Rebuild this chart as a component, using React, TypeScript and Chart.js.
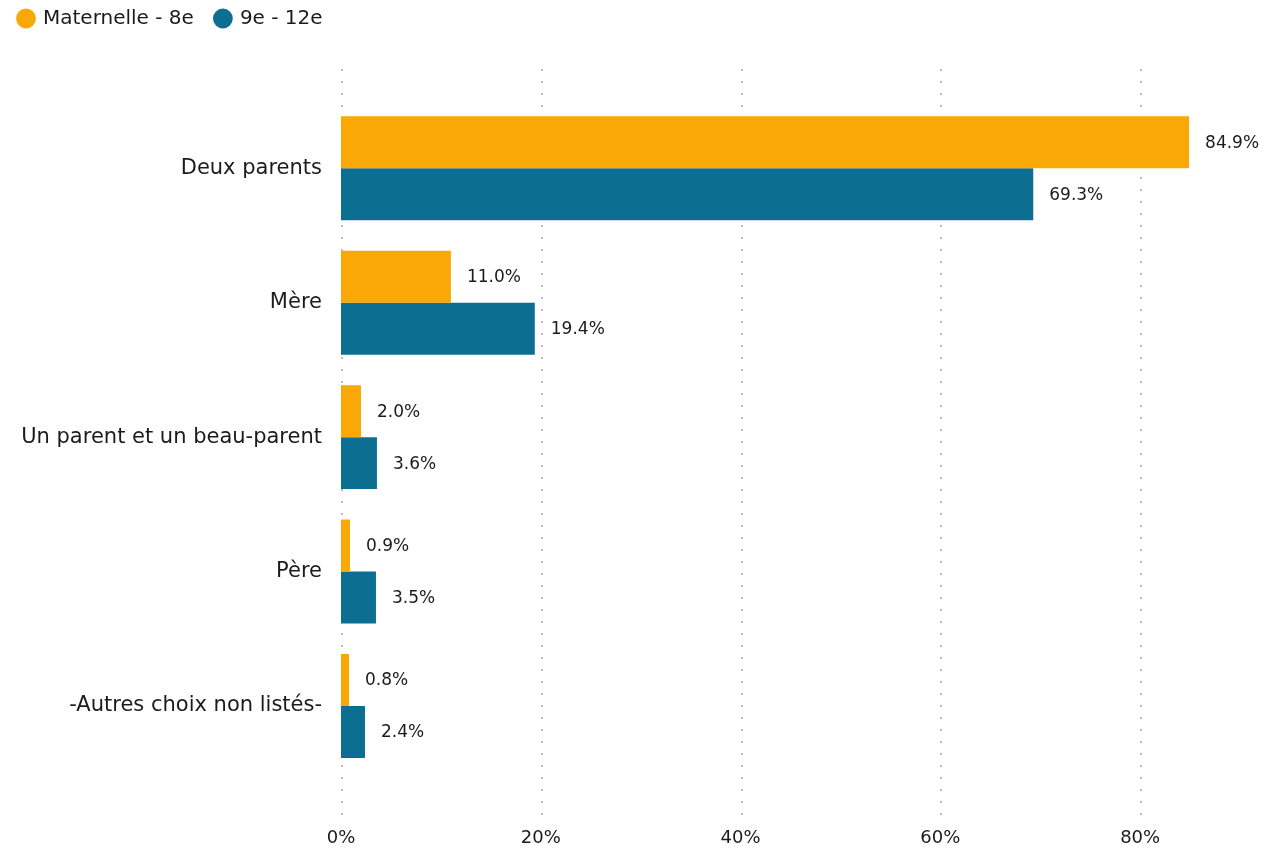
import React, { useEffect, useRef } from "react";
import { Chart, registerables } from "chart.js";

Chart.register(...registerables);

const categories = [
  "Deux parents",
  "Mère",
  "Un parent et un beau-parent",
  "Père",
  "-Autres choix non listés-",
];
const seriesNames = ["Maternelle - 8e", "9e - 12e"];
const maternelle = [84.9, 11.0, 2.0, 0.9, 0.8];
const secondaire = [69.3, 19.4, 3.6, 3.5, 2.4];
const tickValues = [0, 20, 40, 60, 80];
const colors = ["#FAA805", "#0C6F92"];

const FONT = "'DejaVu Sans'";
const TEXT = "#1b1b1b";

const dottedGrid = {
  id: "dottedGrid",
  beforeDatasetsDraw(chart: any) {
    const ctx = chart.ctx;
    const xs = chart.scales.x;
    ctx.save();
    ctx.strokeStyle = "rgba(165,165,182,0.75)";
    ctx.lineWidth = 2;
    ctx.setLineDash([2, 10]);
    tickValues.forEach((v) => {
      const x = Math.round(xs.getPixelForValue(v)) + 1;
      ctx.beginPath();
      ctx.moveTo(x, 69);
      ctx.lineTo(x, 816);
      ctx.stroke();
    });
    ctx.restore();
  },
};

const valueLabels = {
  id: "valueLabels",
  afterDatasetsDraw(chart: any) {
    const ctx = chart.ctx;
    ctx.save();
    ctx.font = `17px ${FONT}`;
    ctx.fillStyle = TEXT;
    ctx.textAlign = "left";
    ctx.textBaseline = "middle";
    chart.data.datasets.forEach((ds: any, i: number) => {
      const meta = chart.getDatasetMeta(i);
      meta.data.forEach((bar: any, j: number) => {
        const v = ds.data[j] as number;
        ctx.fillText(`${v.toFixed(1)}%`, bar.x + 16, bar.y + 1);
      });
    });
    ctx.restore();
  },
};

const legendMargin = {
  id: "legendMargin",
  beforeInit(chart: any) {
    const legend = chart.legend;
    const orig = legend.fit;
    legend.fit = function () {
      orig.call(this);
      this.height += 62.5;
    };
  },
};

export default function App() {
  const ref = useRef<HTMLCanvasElement | null>(null);

  useEffect(() => {
    document.body.style.margin = "0";
    Chart.defaults.font.family = FONT;
    Chart.defaults.color = TEXT;
    const chart = new Chart(ref.current!, {
      type: "bar",
      data: {
        labels: categories,
        datasets: [
          {
            label: seriesNames[0],
            data: maternelle,
            backgroundColor: colors[0],
            borderWidth: 0,
            categoryPercentage: 0.7732,
            barPercentage: 1,
          },
          {
            label: seriesNames[1],
            data: secondaire,
            backgroundColor: colors[1],
            borderWidth: 0,
            categoryPercentage: 0.7732,
            barPercentage: 1,
          },
        ],
      },
      options: {
        indexAxis: "y",
        responsive: false,
        animation: false,
        devicePixelRatio: 1,
        layout: { padding: { left: -3, right: 8, top: -13.5, bottom: 0 } },
        plugins: {
          tooltip: { enabled: false },
          legend: {
            position: "top",
            align: "start",
            labels: {
              usePointStyle: true,
              pointStyle: "circle",
              boxWidth: 14,
              boxHeight: 14,
              padding: 22,
              color: TEXT,
              font: { size: 20, family: FONT },
            },
          },
        },
        scales: {
          x: {
            min: 0,
            max: 92,
            ticks: {
              stepSize: 20,
              padding: 54,
              color: TEXT,
              font: { size: 18, family: FONT },
              callback: (v: any) => `${v}%`,
            },
            afterBuildTicks: (scale: any) => {
              scale.ticks = scale.ticks.filter((t: any) => tickValues.includes(t.value));
            },
            afterFit: (scale: any) => {
              scale.height = 78.75;
            },
            grid: { display: false, drawTicks: false },
            border: { display: false },
          },
          y: {
            ticks: {
              padding: 19,
              color: TEXT,
              font: { size: 21, family: FONT },
            },
            afterFit: (scale: any) => {
              scale.width = 344;
            },
            grid: { display: false, drawTicks: false },
            border: { display: false },
          },
        },
      },
      plugins: [dottedGrid, valueLabels, legendMargin],
    });
    return () => chart.destroy();
  }, []);

  return (
    <div style={{ position: "absolute", left: 0, top: 0, width: 1268, height: 852, background: "#fff" }}>
      <canvas ref={ref} width={1268} height={852} />
    </div>
  );
}
